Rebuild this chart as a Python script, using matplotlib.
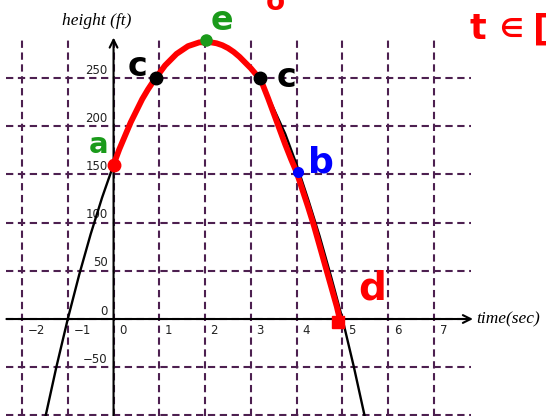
import matplotlib
matplotlib.use("Agg")
import matplotlib.pyplot as plt

# ---- data ----
x_ticks = [-2, -1, 0, 1, 2, 3, 4, 5, 6, 7]
y_grid = [-100, -50, 0, 50, 100, 150, 200, 250]
y_labels = [-50, 0, 50, 100, 150, 200, 250]

# black parabola (height vs time)
t_black = [-1.5, -1.25, -1.0, -0.75, -0.5, -0.25, 0.0, 0.25, 0.5, 0.75, 1.0,
           1.25, 1.5, 1.625, 1.75, 1.875, 2.0, 2.125, 2.25, 2.375, 2.5, 2.75,
           3.0, 3.25, 3.5, 3.75, 4.0, 4.25, 4.5, 4.75, 5.0, 5.25, 5.5]
h_black = [-104, -50, 0, 46, 88, 126, 160, 190, 216, 238, 256,
           270, 280, 283.5, 286, 287.5, 288, 287.5, 286, 283.5, 281, 272,
           260, 244, 218, 192, 160, 124, 86, 44, 0, -50, -104]

# red hand-drawn trace
t_red = [0.0, 0.125, 0.25, 0.375, 0.5, 0.625, 0.75, 0.875, 1.0, 1.125, 1.25,
         1.375, 1.5, 1.625, 1.75, 1.875, 2.0, 2.125, 2.25, 2.375, 2.5, 2.625,
         2.75, 2.875, 3.0, 3.125, 3.25, 3.375, 3.5, 3.625, 3.75, 3.875, 4.0,
         4.125, 4.25, 4.375, 4.5, 4.625, 4.75, 4.875, 4.93]
h_red = [160, 176, 190, 204, 216, 228, 238, 247, 255, 263, 269,
         275, 279, 283, 285, 287, 287, 287, 286, 284, 281, 277,
         272, 266, 260, 253, 244, 229, 213, 197, 181, 166, 152,
         134, 116, 97, 76, 55, 34, 13, 2]

# annotated points
pt_a = (0.0, 160)
pt_e = (2.03, 289)
pt_c = [(0.92, 250), (3.2, 250)]
pt_b = (4.02, 152)
pt_d = (4.9, -3)

GRID = "#4d2050"
RED = "#ff0000"
GREEN = "#1a9a1a"

fig = plt.figure(figsize=(5.46, 4.16), dpi=100)
ax = fig.add_axes([0, 0, 1, 1])
ax.set_xlim(-2.48, 9.445)
ax.set_ylim(-100.6, 330.9)
ax.axis("off")

# grid
for x in x_ticks:
    ax.plot([x, x], [-101, 293], ls=(0, (3.5, 2.2)), color=GRID, lw=1.5, zorder=1)
for y in y_grid:
    ax.plot([-2.34, 7.8], [y, y], ls=(0, (3.5, 2.2)), color=GRID, lw=1.5, zorder=1)

# axes with arrows
ax.annotate("", xy=(7.85, 0), xytext=(-2.34, 0),
            arrowprops=dict(arrowstyle="->", lw=1.5, color="black",
                            mutation_scale=14, shrinkA=0, shrinkB=0), zorder=3)
ax.annotate("", xy=(0, 292), xytext=(0, -101),
            arrowprops=dict(arrowstyle="->", lw=1.5, color="black",
                            mutation_scale=14, shrinkA=0, shrinkB=0), zorder=3)

# tick labels
for x in x_ticks:
    ax.text(x + 0.12, -12, f"{x}".replace("-", "\u2212"), ha="left", va="center",
            fontsize=8.5, color="#222222", family="DejaVu Sans", zorder=4)
for y in y_labels:
    ax.text(-0.13, y + 1.5, f"{y}".replace("-", "\u2212"), ha="right", va="bottom",
            fontsize=8.5, color="#222222", family="DejaVu Sans", zorder=4)

# axis titles
ax.text(-0.37, 309, "height (ft)", ha="center", va="center", fontsize=12.5,
        style="italic", family="Liberation Serif", zorder=4)
ax.text(7.92, 0, "time(sec)", ha="left", va="center", fontsize=12.5,
        style="italic", family="Liberation Serif", zorder=4)

# curves
ax.plot(t_black, h_black, color="black", lw=1.7, zorder=5)
ax.plot(t_red, h_red, color=RED, lw=4.2, solid_capstyle="round",
        solid_joinstyle="round", zorder=6)

# points
ax.plot(*pt_a, "o", color=RED, ms=9, zorder=7)
ax.plot(*pt_d, "s", color=RED, ms=8, zorder=7)
ax.plot(*pt_e, "o", color=GREEN, ms=8, zorder=7)
for p in pt_c:
    ax.plot(*p, "o", color="black", ms=9, zorder=7)
ax.plot(*pt_b, "o", color="#0000ff", ms=7, zorder=7)

# handwritten letters
hw = dict(family="DejaVu Sans", fontweight="bold", ha="center", va="center", zorder=8)
ax.text(-0.33, 180, "a", color=GREEN, fontsize=21, **hw)
ax.text(2.36, 310, "e", color=GREEN, fontsize=24, **hw)
ax.text(0.52, 262, "c", color="black", fontsize=24, **hw)
ax.text(3.78, 250, "c", color="black", fontsize=24, **hw)
ax.text(4.54, 162, "b", color="#0000ff", fontsize=26, **hw)
ax.text(5.65, 32, "d", color=RED, fontsize=28, **hw)
ax.text(3.54, 329, "o", color=RED, fontsize=20, **hw)
ax.text(7.96, 301, "t", color=RED, fontsize=25, **hw)
ax.text(8.68, 300, "\u2208", color=RED, fontsize=19, **hw)
ax.text(9.16, 300, "[", color=RED, fontsize=25, family="DejaVu Sans",
        fontweight="bold", ha="left", va="center", zorder=8)

fig.savefig("out.png", dpi=100)
